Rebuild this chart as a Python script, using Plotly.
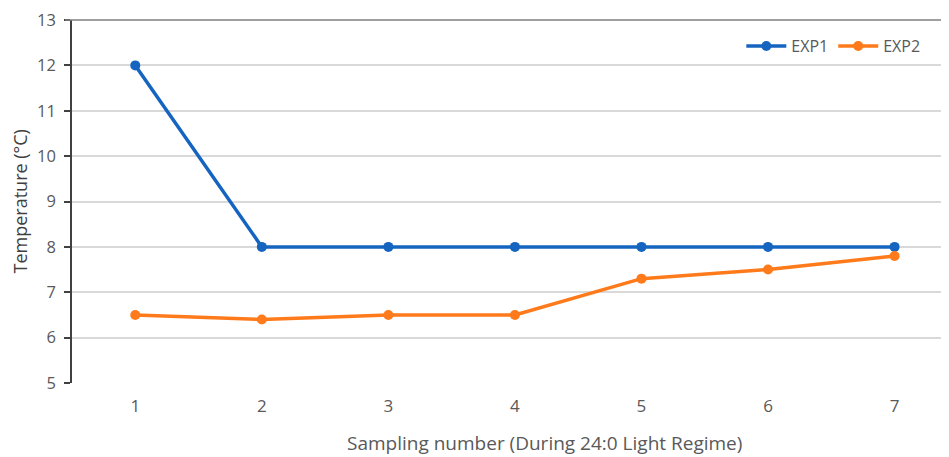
import plotly.graph_objects as go

samples = [1, 2, 3, 4, 5, 6, 7]
tick_labels = ["1", "2", "3", "4", "5", "6", "7"]
exp1 = [12, 8, 8, 8, 8, 8, 8]
exp2 = [6.5, 6.4, 6.5, 6.5, 7.3, 7.5, 7.8]

fig = go.Figure()
fig.add_trace(go.Scatter(x=samples, y=exp1, mode="lines+markers", name="EXP1",
                         line=dict(color="#1565C0", width=3.5),
                         marker=dict(size=10, color="#1565C0")))
fig.add_trace(go.Scatter(x=samples, y=exp2, mode="lines+markers", name="EXP2",
                         line=dict(color="#FF7A1A", width=3.5),
                         marker=dict(size=10, color="#FF7A1A")))

font_family = "Open Sans, Liberation Sans, sans-serif"
fig.update_layout(
    width=941, height=449,
    margin=dict(l=64, r=0, t=12, b=74),
    plot_bgcolor="white", paper_bgcolor="white",
    font=dict(family=font_family, color="#595959", size=15),
    showlegend=True,
    legend=dict(orientation="h", x=0.973, xanchor="right", y=0.928, yanchor="middle",
                font=dict(size=16, color="#595959"), bgcolor="rgba(0,0,0,0)",
                itemwidth=40, tracegroupgap=0),
    xaxis=dict(range=[0.5, 7.43], tickvals=samples, ticktext=tick_labels,
               showgrid=False, zeroline=False, showline=False, ticks="",
               ticklabelstandoff=11,
               tickfont=dict(size=17, color="#595959")),
    yaxis=dict(range=[5, 13], dtick=1, showgrid=True, gridcolor="#D9D9D9", gridwidth=1.5,
               zeroline=False, showline=True, linecolor="#404040", linewidth=1.5,
               ticks="outside", ticklen=6, tickcolor="#404040", tickwidth=1.5,
               ticklabelstandoff=5, ticklabeloverflow="allow",
               tickfont=dict(size=16.5, color="#595959")),
    shapes=[dict(type="line", xref="paper", yref="paper", x0=-0.008, x1=1, y0=1, y1=1,
                 line=dict(color="#7F7F7F", width=1.5))],
    annotations=[
        dict(text="Sampling number (During 24:0 Light Regime)", xref="paper", yref="paper",
             x=0.539, y=-0.166, xanchor="center", yanchor="middle", showarrow=False,
             font=dict(size=19, color="#595959")),
        dict(text="Temperature (°C)", xref="paper", yref="paper", textangle=-90,
             x=-0.0593, y=0.5, xanchor="center", yanchor="middle", showarrow=False,
             font=dict(size=18, color="#404040")),
    ],
)

fig.write_html("out.html")
